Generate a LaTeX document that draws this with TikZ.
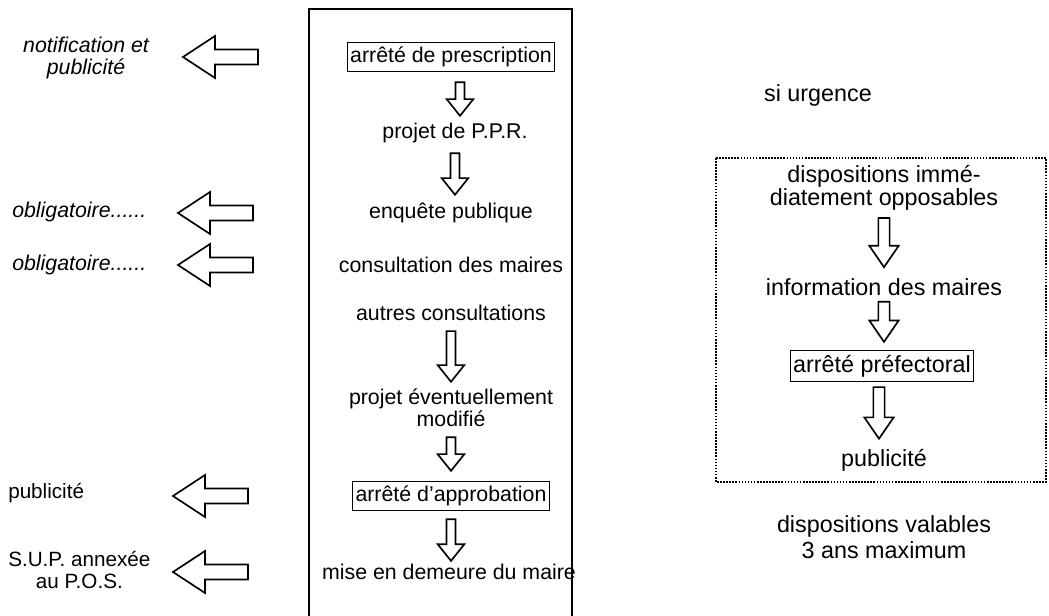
\documentclass[tikz,border=0pt]{standalone}
\usepackage{fontspec}
\setmainfont{Liberation Sans}
\usetikzlibrary{calc}
% block arrow pointing down from #1 to #2; #3 half shaft, #4 half head, #5 head length
\newcommand\bdown[5]{%
  \path[barrow] let \p1=(#1), \p2=(#2) in
    (\x1-#3,\y1) -- (\x1+#3,\y1) -- (\x1+#3,\y2+#5) -- (\x1+#4,\y2+#5)
    -- (\x1,\y2) -- (\x1-#4,\y2+#5) -- (\x1-#3,\y2+#5) -- cycle;}
\begin{document}
\begin{tikzpicture}[x=0.75pt,y=-0.75pt,
  txt/.style={inner sep=0pt, align=center, font=\fontsize{16}{16.5}\selectfont},
  ltxt/.style={inner sep=0pt, align=center, font=\fontsize{16}{16.5}\selectfont\itshape},
  lntxt/.style={inner sep=0pt, align=center, font=\fontsize{15.5}{16}\selectfont},
  rtxt/.style={inner sep=0pt, align=center, font=\fontsize{17.5}{17.5}\selectfont},
  framed/.style={draw, line width=0.7pt, inner xsep=2pt, inner ysep=3.5pt},
  barrow/.style={draw, line width=1.25pt, line join=miter, fill=white},
  larrow/.pic={\path[barrow] (-37,0) -- (-5,-21) -- (-5,-7.5) -- (38,-7.5) -- (38,7.5) -- (-5,7.5) -- (-5,21) -- cycle;}
]
\useasboundingbox (0,0) rectangle (1049,616);

% main frame (open at the bottom)
\draw[line width=1.5pt] (309,616) -- (309,9) -- (572,9) -- (572,616);

% main column
\node[txt, framed] (presc) at (451,57) {arrêté de prescription};
\node[txt] (ppr) at (455,133) {projet de P.P.R.};
\node[txt] (enq) at (451,213) {enquête publique};
\node[txt] (cons) at (451,265) {consultation des maires};
\node[txt] (autres) at (451,313) {autres consultations};
\node[txt] (modif) at (451,408) {projet éventuellement\\modifié};
\node[txt, framed] (approb) at (451,496) {arrêté d'approbation};
\node[txt] (mise) at (449,572) {mise en demeure du maire};

\bdown{$(presc.south)+(9,10)$}{$(ppr.north)+(0,-7)$}{3.4pt}{10pt}{12.5pt}
\bdown{$(ppr.south)+(0,10)$}{$(enq.north)+(0,-8)$}{3.4pt}{10pt}{12.5pt}
\bdown{$(autres.south)+(0,10)$}{$(modif.north)+(0,-7)$}{3.4pt}{10pt}{12.5pt}
\bdown{$(modif.south)+(0,10)$}{$(approb.north)+(0,-10)$}{3.4pt}{10pt}{12.5pt}
\bdown{$(approb.south)+(0,8)$}{$(mise.north)+(0,-3)$}{3.4pt}{10pt}{12.5pt}

% left column
\coordinate (xa1) at (220,0);
\coordinate (xa2) at (215,0);
\coordinate (xa3) at (210,0);
\node[ltxt] (notif) at (86,58) {notification et\\publicité};
\node[ltxt, anchor=west] (obl1) at (12,212) {obligatoire......};
\node[ltxt, anchor=west] (obl2) at (12,265) {obligatoire......};
\node[lntxt, anchor=west] (pub) at (8,493) {publicité};
\node[lntxt, anchor=west] (sup) at (8,570) {S.U.P. annexée\\au P.O.S.};

\pic at (xa1 |- presc) {larrow};
\pic at (xa2 |- enq) {larrow};
\pic at (xa2 |- cons) {larrow};
\pic at (xa3 |- approb) {larrow};
\pic at (xa3 |- mise) {larrow};

% right column
\node[rtxt] (urg) at (818,95) {si urgence};
\draw[line width=1.3pt, dash pattern=on 1.2pt off 1.1pt] (716,158) rectangle (1046,482);
\node[rtxt] (dispo) at (884,188) {dispositions immé-\\diatement opposables};
\node[rtxt] (info) at (884,287) {information des maires};
\node[rtxt, framed] (pref) at (882,366) {arrêté préfectoral};
\node[rtxt] (rpub) at (884,460) {publicité};
\node[rtxt, font=\fontsize{17.5}{20}\selectfont] (valab) at (884,537) {dispositions valables\\3 ans maximum};

\bdown{$(dispo.south)+(0,7)$}{$(info.north)+(0,-11)$}{4.2pt}{11pt}{16pt}
\bdown{$(info.south)+(0,6)$}{$(pref.north)+(0,-8)$}{4.2pt}{11pt}{16pt}
\bdown{$(pref.south)+(-3,5)$}{$(rpub.north)+(0,-10)$}{4.2pt}{11pt}{16pt}
\end{tikzpicture}
\end{document}
